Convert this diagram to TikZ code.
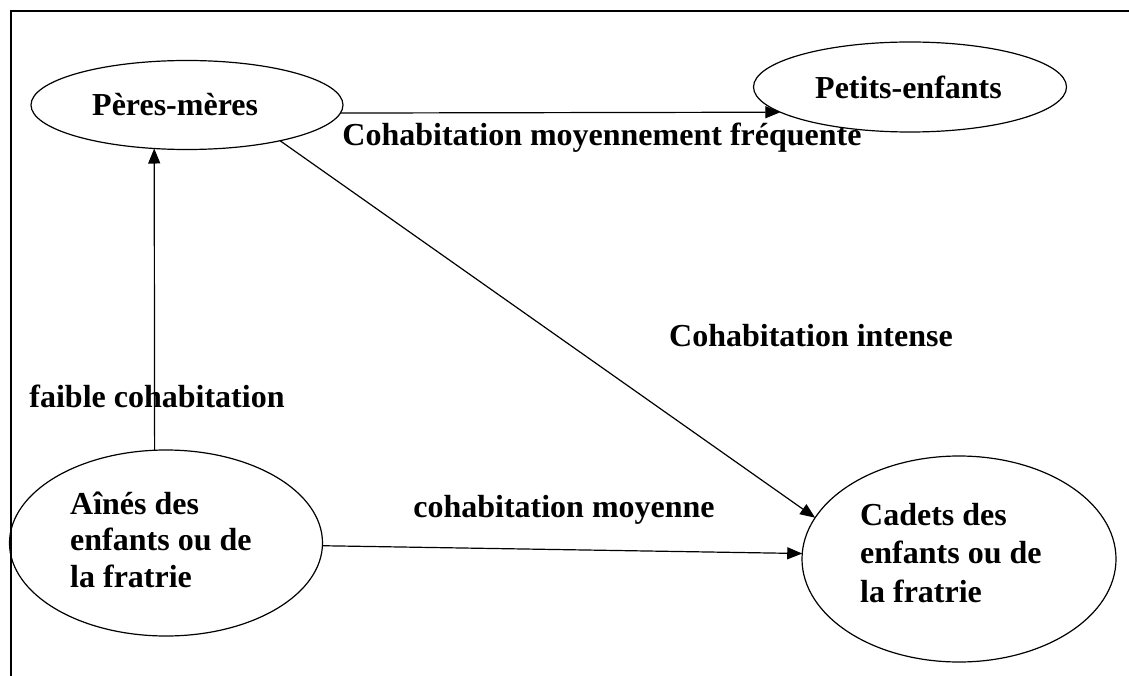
\documentclass[tikz,border=0pt]{standalone}
\usepackage{fontspec}
\setmainfont{Liberation Serif}
\usetikzlibrary{shapes.geometric,arrows.meta}
\begin{document}
\begin{tikzpicture}[x=1pt,y=-1pt,
  ell/.style={draw,ellipse,line width=1.2pt,inner sep=0pt,outer sep=0pt},
  lbl/.style={font=\bfseries\fontsize{32}{37}\selectfont,inner sep=0pt,anchor=base},
  txt/.style={font=\bfseries\fontsize{32}{37}\selectfont,inner sep=0pt,align=left,anchor=base west},
  arr/.style={line width=1.2pt,-{Triangle[length=15pt,width=12pt]}}]
\useasboundingbox (0,0) rectangle (1129,676);
\draw[line width=1.7pt] (11,676) -- (11,11) -- (1129,11);
% nodes
\node[ell,minimum width=312pt,minimum height=89pt] (pm) at (187,105) {};
\node[ell,minimum width=313pt,minimum height=90pt] (pe) at (910,87) {};
\node[ell,minimum width=313pt,minimum height=186pt] (ai) at (166,543) {};
\node[ell,minimum width=314pt,minimum height=206pt] (ca) at (959,559) {};
\node[txt,anchor=west] (pmt) at (92,105) {Pères-mères};
\node[txt,anchor=west] (pet) at (815,87) {Petits-enfants};
\node[txt,font=\bfseries\fontsize{32}{36.5}\selectfont] (ait) at (70,587) {Aînés des\\enfants ou de\\la fratrie};
\node[txt,font=\bfseries\fontsize{32}{38.5}\selectfont] (cat) at (860,602) {Cadets des\\enfants ou de\\la fratrie};
% labels
\node[lbl] (l1) at (602,146) {Cohabitation moyennement fréquente};
\node[lbl] (l2) at (811,346) {Cohabitation intense};
\node[lbl] (l3) at (157,407) {faible cohabitation};
\node[lbl] (l4) at (564,517) {cohabitation moyenne};
% connectors
\draw[arr] (pm.-3) -- (pe.191);
\draw[arr] (ai.97.4) -- (pm.233);
\draw[arr] (pm.-21.3) -- (ca.164.5);
\draw[arr] (ai.-1) -- (ca.178);
\end{tikzpicture}
\end{document}
